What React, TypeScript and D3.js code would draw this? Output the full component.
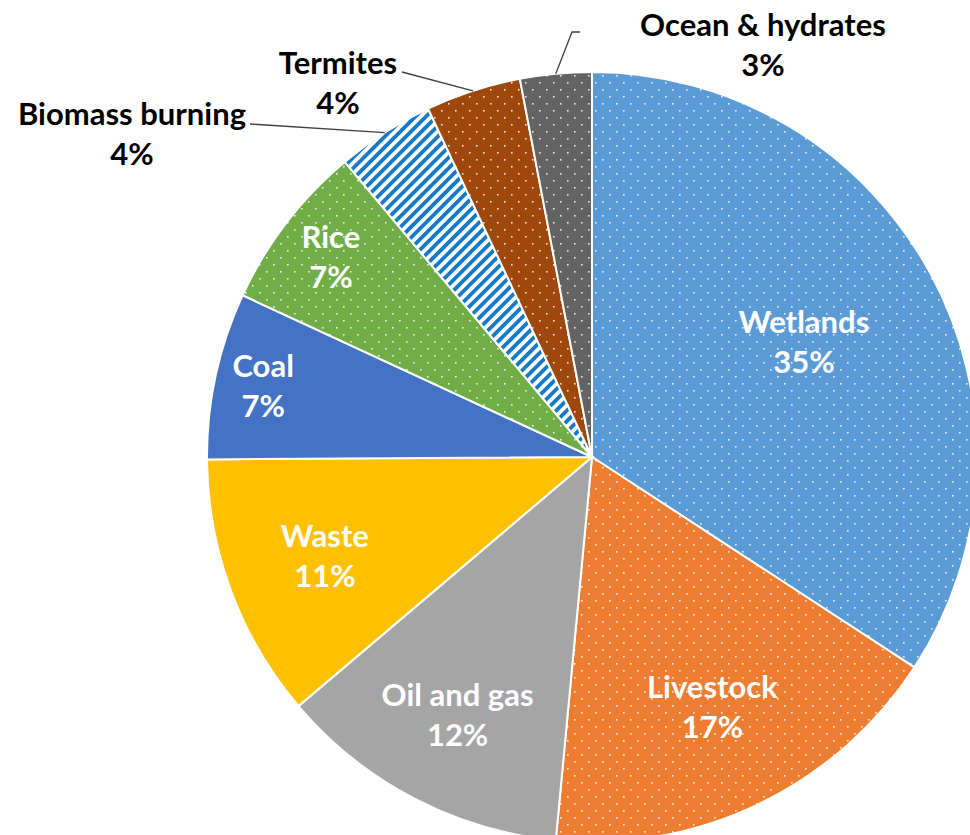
import React from "react";
import * as d3 from "d3";

const categories = ["Wetlands", "Livestock", "Oil and gas", "Waste", "Coal", "Rice", "Biomass burning", "Termites", "Ocean & hydrates"];
const values = [34.2, 17.3, 12.3, 11.1, 7.0, 7.0, 4.1, 4.0, 3.0];
const percentLabels = ["35%", "17%", "12%", "11%", "7%", "7%", "4%", "4%", "3%"];

const colors = ["#5B9BD5", "#ED7D31", "#A5A5A5", "#FFC000", "#4472C4", "#70AD47", "#1479C8", "#9E480E", "#636363"];
const fillKind = ["dots", "dots", "solid", "solid", "solid", "dots", "stripes", "dots", "dots"];
// inside label radius fraction (null = outside label)
const insideLabelR = [0.626, 0.72, 0.755, 0.74, 0.874, 0.854, null, null, null];
// outside label anchors (center x, first baseline) and leader polyline end points
const outsideLabel: Record<number, { x: number; y: number; line: [number, number][] }> = {
  6: { x: 132, y: 125, line: [[250, 124]] },
  7: { x: 338, y: 74, line: [[402, 72]] },
  8: { x: 763, y: 36, line: [[572, 32], [580, 32]] },
};

const W = 970;
const H = 835;
const CX = 592;
const CY = 457;
const R = 385;
const FONT = "Lato, 'Open Sans', sans-serif";
const FS = 31;
const LINE = 40;

export default function App() {
  const pie = d3.pie<number>().sort(null).value((d) => d).startAngle(0).endAngle(2 * Math.PI);
  const arcs = pie(values);
  const arc = d3.arc<d3.PieArcDatum<number>>().innerRadius(0).outerRadius(R);

  const polar = (a: number, r: number): [number, number] => [CX + r * Math.sin(a), CY - r * Math.cos(a)];

  return (
    <svg width={W} height={H} style={{ position: "absolute", left: 0, top: 0, background: "#fff" }}>
      <defs>
        {colors.map((c, i) =>
          fillKind[i] === "dots" ? (
            <pattern key={i} id={`p${i}`} patternUnits="userSpaceOnUse" width={14} height={14}>
              <rect width={14} height={14} fill={c} />
              <rect x={3} y={3} width={1.6} height={1.6} fill="#fff" opacity={0.85} />
              <rect x={10} y={10} width={1.6} height={1.6} fill="#fff" opacity={0.85} />
            </pattern>
          ) : fillKind[i] === "stripes" ? (
            <pattern key={i} id={`p${i}`} patternUnits="userSpaceOnUse" width={7.5} height={7.5} patternTransform="rotate(45)">
              <rect width={7.5} height={7.5} fill="#fff" />
              <rect width={3.8} height={7.5} fill={c} />
            </pattern>
          ) : null
        )}
      </defs>
      <g>
        {arcs.map((a, i) => (
          <path
            key={categories[i]}
            d={arc(a) || ""}
            transform={`translate(${CX},${CY})`}
            fill={fillKind[i] === "solid" ? colors[i] : `url(#p${i})`}
            stroke="#fff"
            strokeWidth={2}
          />
        ))}
      </g>
      <g fontFamily={FONT} fontWeight="bold" fontSize={FS} textAnchor="middle">
        {arcs.map((a, i) => {
          const rf = insideLabelR[i];
          const mid = (a.startAngle + a.endAngle) / 2;
          if (rf != null) {
            const [x, y] = polar(mid, R * rf);
            const b = y - 9;
            return (
              <g key={categories[i]} fill="#fff">
                <text x={x} y={b}>{categories[i]}</text>
                <text x={x} y={b + LINE}>{percentLabels[i]}</text>
              </g>
            );
          }
          const o = outsideLabel[i];
          const start = polar(mid, R);
          const pts = [start, ...o.line];
          return (
            <g key={categories[i]}>
              <polyline points={pts.map((p) => p.join(",")).join(" ")} fill="none" stroke="#404040" strokeWidth={1.3} />
              <text x={o.x} y={o.y} fill="#000">{categories[i]}</text>
              <text x={o.x} y={o.y + LINE} fill="#000">{percentLabels[i]}</text>
            </g>
          );
        })}
      </g>
    </svg>
  );
}
